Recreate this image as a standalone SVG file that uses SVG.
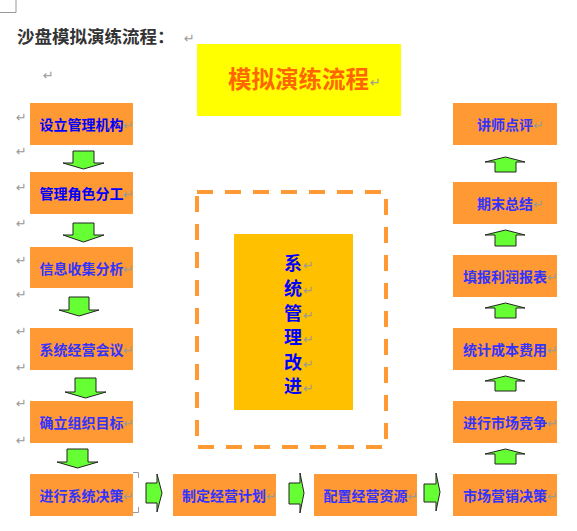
<svg xmlns="http://www.w3.org/2000/svg" width="577" height="531" viewBox="0 0 577 531">
<style>
.box{fill:#FF9933}
.bt{font-family:"Noto Sans CJK SC","Liberation Sans",sans-serif;font-size:14px;font-weight:bold;text-anchor:middle}
.b1{fill:#0000FF}
.b2{fill:#3333FF}
.pm{font-family:"DejaVu Sans",sans-serif;font-size:13px;fill:#999}
.arr{fill:#66FF33;stroke:#222;stroke-width:1;stroke-linejoin:miter}
.corner{fill:none;stroke:#999;stroke-width:1}
</style>
<rect width="577" height="531" fill="#fff"/>
<polyline class="corner" points="16,0 16,12.5 0,12.5"/>
<text x="17" y="43" font-family="Noto Sans CJK SC,sans-serif" font-size="17.5" font-weight="bold" fill="#333">沙盘模拟演练流程：</text>
<text class="pm" x="184" y="43" font-size="15">↵</text>
<text class="pm" x="43" y="80" font-size="8">↵</text>

<g id="title">
<rect x="197" y="44" width="204" height="72" fill="#FFFF00"/>
<text x="228" y="88" font-family="Noto Sans CJK SC,serif" font-size="23.5" font-weight="bold" fill="#FF6600">模拟演练流程</text>
<text class="pm" x="370" y="87" font-size="16">↵</text>
</g>

<g id="improve">
<rect x="197" y="192" width="189" height="255" fill="none" stroke="#FF9933" stroke-width="4" stroke-dasharray="16,12"/>
<rect x="234" y="234" width="119" height="176" fill="#FFC000"/>
<g font-family="Noto Sans CJK SC,serif" font-size="18" font-weight="bold" fill="#0000FF" text-anchor="middle">
<text x="293" y="270">系</text>
<text x="293" y="295">统</text>
<text x="293" y="320">管</text>
<text x="293" y="344">理</text>
<text x="293" y="369">改</text>
<text x="293" y="393">进</text>
</g>
<g class="pm" font-size="14">
<text x="303" y="270">↵</text>
<text x="303" y="295">↵</text>
<text x="303" y="320">↵</text>
<text x="303" y="344">↵</text>
<text x="303" y="369">↵</text>
<text x="303" y="393">↵</text>
</g>
</g>

<g class="pm">
<text x="16" y="122">↵</text>
<text x="16" y="156">↵</text>
<text x="16" y="192">↵</text>
<text x="16" y="228">↵</text>
<text x="16" y="265">↵</text>
<text x="16" y="299">↵</text>
<text x="16" y="336">↵</text>
<text x="16" y="372">↵</text>
<text x="16" y="408">↵</text>
<text x="16" y="445">↵</text>
</g>

<g id="n1"><rect class="box" x="30" y="103" width="103" height="42"/><text class="bt b1" x="81.5" y="130">设立管理机构</text><text class="pm" x="123" y="130">↵</text></g>
<g id="n2"><rect class="box" x="30" y="172" width="103" height="42"/><text class="bt b1" x="81.5" y="199">管理角色分工</text><text class="pm" x="123" y="199">↵</text></g>
<g id="n3"><rect class="box" x="30" y="247" width="103" height="41"/><text class="bt b2" x="81.5" y="274">信息收集分析</text><text class="pm" x="123" y="274">↵</text></g>
<g id="n4"><rect class="box" x="30" y="328" width="103" height="42"/><text class="bt b2" x="81.5" y="355">系统经营会议</text><text class="pm" x="123" y="355">↵</text></g>
<g id="n5"><rect class="box" x="30" y="401" width="103" height="42"/><text class="bt b2" x="81.5" y="428">确立组织目标</text><text class="pm" x="123" y="428">↵</text></g>
<g id="n6"><rect class="box" x="30" y="474" width="103" height="42"/><text class="bt b2" x="81.5" y="501">进行系统决策</text><text class="pm" x="123" y="501">↵</text>
<polyline class="corner" points="133,472.5 138.5,472.5 138.5,478"/>
<polyline class="corner" points="138.5,507 138.5,512.5 133,512.5"/></g>
<g id="n7"><rect class="box" x="173" y="474" width="103" height="42"/><text class="bt b2" x="224" y="501">制定经营计划</text><text class="pm" x="266" y="501">↵</text></g>
<g id="n8"><rect class="box" x="314" y="474" width="103" height="42"/><text class="bt b2" x="365.5" y="501">配置经营资源</text><text class="pm" x="407.5" y="501">↵</text></g>
<g id="n9"><rect class="box" x="453" y="474" width="104" height="42"/><text class="bt b2" x="505" y="501">市场营销决策</text><text class="pm" x="547" y="501">↵</text></g>
<g id="n10"><rect class="box" x="453" y="401" width="104" height="42"/><text class="bt b2" x="505" y="428">进行市场竞争</text><text class="pm" x="547" y="428">↵</text></g>
<g id="n11"><rect class="box" x="453" y="328" width="104" height="42"/><text class="bt b2" x="505" y="355">统计成本费用</text><text class="pm" x="547" y="355">↵</text></g>
<g id="n12"><rect class="box" x="453" y="255" width="104" height="42"/><text class="bt b2" x="505" y="282">填报利润报表</text><text class="pm" x="547" y="282">↵</text></g>
<g id="n13"><rect class="box" x="453" y="182" width="104" height="42"/><text class="bt b2" x="505" y="209">期末总结</text><text class="pm" x="533" y="209">↵</text></g>
<g id="n14"><rect class="box" x="453" y="103" width="104" height="42"/><text class="bt b2" x="505" y="130">讲师点评</text><text class="pm" x="533" y="130">↵</text></g>

<g id="connectors">
<polygon class="arr" points="73,151 94,151 94,163 104,163 83.5,169 63,163 73,163"/>
<polygon class="arr" points="73,223 94,223 94,235 104,235 83.5,242 63,235 73,235"/>
<polygon class="arr" points="69,297 89,297 89,310 99,310 79,316 59,310 69,310"/>
<polygon class="arr" points="75,378 96,378 96,392 106,392 85.5,398 65,392 75,392"/>
<polygon class="arr" points="67,449 88,449 88,462 98,462 77.5,468 57,462 67,462"/>
<polygon class="arr" points="146,483 157,483 157,474 162,493 157,512 157,503 146,503"/>
<polygon class="arr" points="289,483 300,483 300,473 304,493 300,513 300,504 289,504"/>
<polygon class="arr" points="424,484 436,484 436,473 440,492 436,511 436,502 424,502"/>
<polygon class="arr" points="495,464 516,464 516,454 525,454 505.5,449 485,454 495,454"/>
<polygon class="arr" points="495,391 516,391 516,381 525,381 505.5,376 485,381 495,381"/>
<polygon class="arr" points="495,318 516,318 516,308 525,308 505.5,303 485,308 495,308"/>
<polygon class="arr" points="495,246 516,246 516,235 525,235 505.5,230 485,235 495,235"/>
<polygon class="arr" points="495,172 516,172 516,162 525,162 505.5,157 485,162 495,162"/>
</g>
</svg>
